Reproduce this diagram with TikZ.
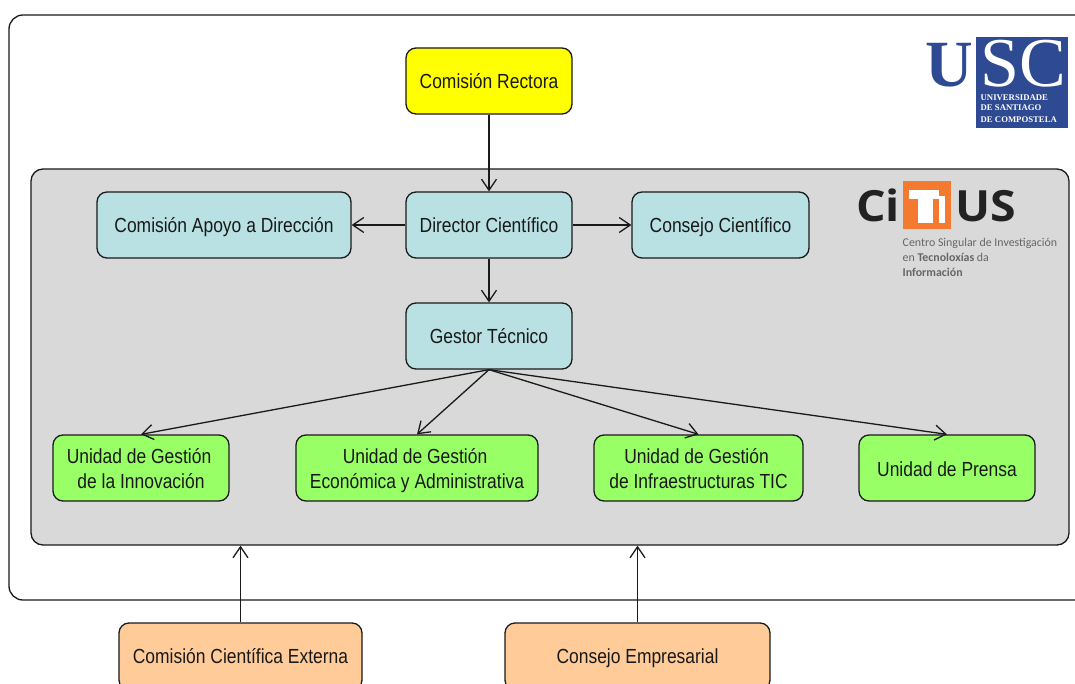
\documentclass[tikz,border=0pt]{standalone}
\usepackage{fontspec}
\setmainfont{Liberation Sans}
\newfontfamily\narrowfont[FakeStretch=0.855]{Liberation Sans}
\newfontfamily\serifbrand{Liberation Serif}
\newfontfamily\logosans[FakeStretch=1.08]{Open Sans}
\newfontfamily\logocap{Carlito}
\usetikzlibrary{arrows.meta}
\definecolor{bluebox}{HTML}{B9E0E3}
\definecolor{greenbox}{HTML}{99FF66}
\definecolor{orangebox}{HTML}{FFCC99}
\definecolor{panelgray}{HTML}{D9D9D9}
\definecolor{signalyellow}{HTML}{FFFF00}
\definecolor{uscnavy}{HTML}{2E4A92}
\definecolor{citiusorange}{HTML}{F47A30}
\definecolor{citiusdark}{HTML}{222222}
\definecolor{citiusgray}{HTML}{666666}
\definecolor{inkline}{HTML}{1A1A1A}
\tikzset{
  x=1pt,y=-1pt,
  stagebox/.style={draw=inkline,line width=1.3pt,rounded corners=10pt,inner sep=0pt,
    minimum height=66pt,align=center,font=\narrowfont\fontsize{20.4}{25}\selectfont,text=black!90},
  yellowbox/.style={stagebox,fill=signalyellow},
  tealbox/.style={stagebox,fill=bluebox},
  limebox/.style={stagebox,fill=greenbox},
  peachbox/.style={stagebox,fill=orangebox},
  onelabel/.style={inner sep=0pt,font=\narrowfont\fontsize{20.4}{25}\selectfont,text=black!90,anchor=base},
  framebox/.style={draw=inkline,line width=1.3pt,inner sep=0pt},
  link/.style={draw=inkline,line width=1.3pt,-{Straight Barb[length=11pt,width=15pt,line width=1.3pt]}},
  uscsmall/.style={anchor=west,inner sep=0pt,text=white,font=\serifbrand\bfseries\fontsize{8.7}{10}\selectfont},
  citiuscap/.style={anchor=west,inner sep=0pt,text=citiusgray,font=\logocap\fontsize{11.9}{14}\selectfont},
}
\begin{document}
\begin{tikzpicture}
\useasboundingbox (0,0) rectangle (1075,684);
\clip (0,0) rectangle (1075,684);
\fill[white] (0,0) rectangle (1075,684);

% outer frame (runs past the right edge)
\node[framebox,rounded corners=14pt,fill=white,minimum width=1101pt,minimum height=585pt] (outer) at (559.5,307.5) {};
% grey panel
\node[framebox,rounded corners=12pt,fill=panelgray,minimum width=1038pt,minimum height=376pt] (panel) at (550,357) {};

% boxes
\node[yellowbox,minimum width=166pt] (rectora) at (489,81) {};
\node[tealbox,minimum width=166pt] (director) at (489,225) {};
\node[tealbox,minimum width=254pt] (apoyo) at (224,225) {};
\node[tealbox,minimum width=177pt] (consejo) at (720.5,225) {};
\node[tealbox,minimum width=166pt] (gestor) at (489,336) {};
\node[limebox,minimum width=176pt] (innov) at (141,468) {};
\node[limebox,minimum width=242pt] (econ) at (417,468) {};
\node[limebox,minimum width=209pt] (infra) at (698.5,468) {};
\node[limebox,minimum width=176pt] (prensa) at (947,468) {};
\node[peachbox,minimum width=243pt,minimum height=67pt] (externa) at (240.5,656.5) {};
\node[peachbox,minimum width=265pt,minimum height=67pt] (empresa) at (637.5,656.5) {};

% labels
\node[onelabel] (t1) at (489,88.5) {Comisión Rectora};
\node[onelabel] (t2) at (489,232.5) {Director Científico};
\node[onelabel] (t3) at (224,232.5) {Comisión Apoyo a Dirección};
\node[onelabel] (t4) at (720.5,232.5) {Consejo Científico};
\node[onelabel] (t5) at (489,343.5) {Gestor Técnico};
\node[onelabel] (t6) at (139,463) {Unidad de Gestión};
\node[onelabel] (t7) at (141,488) {de la Innovación};
\node[onelabel] (t8) at (415,463) {Unidad de Gestión};
\node[onelabel] (t9) at (417,488) {Económica y Administrativa};
\node[onelabel] (t10) at (696.5,463) {Unidad de Gestión};
\node[onelabel] (t11) at (698.5,488) {de Infraestructuras TIC};
\node[onelabel] (t12) at (947,476) {Unidad de Prensa};
\node[onelabel] (t13) at (240.5,663.5) {Comisión Científica Externa};
\node[onelabel] (t14) at (637.5,663.5) {Consejo Empresarial};

% connectors
\draw[link] (rectora) -- (director);
\draw[link] (director) -- (apoyo);
\draw[link] (director) -- (consejo);
\draw[link] (director) -- (gestor);
\draw[link] (gestor.south) -- (innov.north);
\draw[link] (gestor.south) -- (econ.north);
\draw[link] (gestor.south) -- (infra.north);
\draw[link] (gestor.south) -- (prensa.north);
\draw[link] (externa.north) -- (externa.north |- panel.south);
\draw[link] (empresa.north) -- (empresa.north |- panel.south);

% USC logo
\node[anchor=north west,inner sep=0pt,fill=uscnavy,minimum width=92pt,minimum height=91pt] (uscsquare) at (976,37) {};
\node[anchor=base,inner sep=0pt,text=uscnavy,font=\serifbrand\bfseries\fontsize{66}{66}\selectfont] (uscu) at (949,87) {U};
\node[anchor=base,inner sep=0pt,text=white,font=\serifbrand\fontsize{70}{70}\selectfont] (uscsc) at (1023,87) {SC};
\node[uscsmall] (usc1) at (980.5,97.5) {UNIVERSIDADE};
\node[uscsmall] (usc2) at (980.5,108) {DE SANTIAGO};
\node[uscsmall] (usc3) at (980.5,119.5) {DE COMPOSTELA};

% CiTIUS logo
\node[anchor=base west,inner sep=0pt,text=citiusdark,font=\logosans\bfseries\fontsize{43}{43}\selectfont] (citci) at (856,222) {Ci};
\node[anchor=north west,inner sep=0pt,fill=citiusorange,minimum width=48pt,minimum height=48pt] (citsquare) at (903,181) {};
\fill[white] (909,190) rectangle (939,199);
\fill[white] (918,199) rectangle (933,223);
\fill[white] (939,196) rectangle (945,223);
\node[anchor=base west,inner sep=0pt,text=citiusdark,font=\logosans\bfseries\fontsize{43}{43}\selectfont] (citus) at (955,222) {US};
\node[citiuscap] (cap1) at (902.5,243) {Centro Singular de Investigación};
\node[citiuscap] (cap2) at (902.5,257.5) {en {\bfseries Tecnoloxías} da};
\node[citiuscap] (cap3) at (902.5,272) {{\bfseries Información}};
\end{tikzpicture}
\end{document}
